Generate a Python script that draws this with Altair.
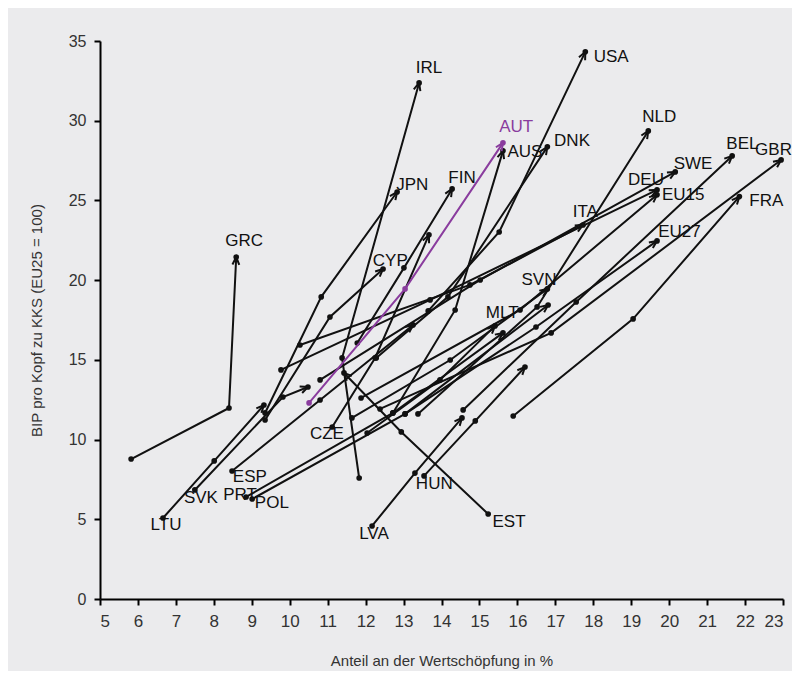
import math
import altair as alt
import pandas as pd

countries = ["IRL", "USA", "AUT", "AUS", "DNK", "NLD", "JPN", "FIN", "GRC", "CYP",
             "ITA", "DEU", "EU15", "SWE", "BEL", "GBR", "FRA", "EU27", "SVN", "MLT",
             "LTU", "SVK", "ESP", "PRT", "POL", "CZE", "EST", "LVA", "HUN"]

x_start = [11.83, 13.65, 10.51, 12.72, 12.28, 13.38, 9.35, 11.78, 5.82, 9.35,
           10.27, 9.77, 11.88, 10.80, 14.57, 12.38, 15.89, 13.04, 11.64, 12.04,
           6.66, 7.50, 8.48, 8.85, 9.01, 11.12, 15.23, 12.17, 13.54]
y_start = [7.59, 18.07, 12.30, 11.67, 15.12, 11.61, 11.67, 16.06, 8.78, 11.23,
           15.93, 14.37, 12.61, 13.74, 11.86, 11.92, 11.48, 11.61, 11.36, 10.41,
           5.08, 6.84, 8.03, 6.40, 6.27, 10.79, 5.33, 4.58, 7.72]
x_mid = [11.38, 15.52, 13.04, 14.36, 14.17, 16.52, 10.83, 13.01, 8.40, 11.06,
         14.75, 13.70, 16.07, 15.02, 17.55, 16.89, 19.05, 16.49, 14.23, 13.96,
         8.01, 9.82, 10.80, 12.72, 13.04, 12.25, 12.94, 13.30, 14.89]
y_mid = [15.12, 23.02, 19.45, 18.13, 18.95, 18.32, 18.95, 20.77, 11.98, 17.69,
         19.70, 18.76, 18.13, 20.01, 18.63, 16.69, 17.57, 17.06, 14.99, 13.74,
         8.66, 12.67, 12.48, 11.67, 11.61, 15.12, 10.48, 7.90, 11.17]
x_end = [13.41, 17.79, 15.62, 15.62, 16.79, 19.45, 12.83, 14.28, 8.59, 12.46,
         17.73, 19.68, 19.68, 20.16, 21.66, 22.95, 21.85, 19.68, 16.79, 15.41,
         9.32, 10.48, 13.25, 15.62, 16.81, 13.67, 11.43, 14.54, 16.20]
y_end = [32.37, 34.32, 28.61, 28.11, 28.36, 29.36, 25.53, 25.72, 21.45, 20.70,
         23.46, 25.66, 25.35, 26.79, 27.79, 27.54, 25.24, 22.46, 19.45, 17.13,
         12.17, 13.30, 17.19, 16.69, 18.44, 22.84, 14.18, 11.36, 14.55]

label_x = [13.67, 18.47, 15.97, 16.20, 17.44, 19.74, 13.23, 14.54, 8.80, 12.65,
           17.79, 19.39, 20.37, 20.63, 21.93, 22.75, 22.56, 20.27, 16.57, 15.60,
           6.74, 7.66, 8.95, 8.69, 9.53, 10.98, 15.78, 12.22, 13.81]
label_y = [33.31, 34.00, 29.61, 28.04, 28.73, 30.24, 25.97, 26.41, 22.46, 21.20,
           24.28, 26.29, 25.35, 27.29, 28.54, 28.17, 24.97, 23.02, 20.01, 17.94,
           4.64, 6.34, 7.65, 6.52, 6.02, 10.35, 4.83, 4.08, 7.21]

highlight = "AUT"
x_ticks = list(range(5, 24))
y_ticks = list(range(0, 36, 5))

W, H = 683, 558
X_DOM, Y_DOM = [5, 23], [0, 35]
sx = W / (X_DOM[1] - X_DOM[0])
sy = H / (Y_DOM[1] - Y_DOM[0])

rows, ends, labels = [], [], []
for i, c in enumerate(countries):
    grp = "hl" if c == highlight else "base"
    for step, (xx, yy) in enumerate([(x_start[i], y_start[i]), (x_mid[i], y_mid[i]), (x_end[i], y_end[i])]):
        rows.append({"country": c, "step": step, "x": xx, "y": yy, "grp": grp})
    ang = math.degrees(math.atan2((x_end[i] - x_mid[i]) * sx, (y_end[i] - y_mid[i]) * sy)) % 360
    ends.append({"country": c, "x": x_end[i], "y": y_end[i], "ang": ang, "grp": grp})
    labels.append({"country": c, "x": label_x[i], "y": label_y[i], "grp": grp})

pts = pd.DataFrame(rows)
ends_df = pd.DataFrame(ends)
lab_df = pd.DataFrame(labels)

color = alt.Color("grp:N", scale=alt.Scale(domain=["base", "hl"], range=["#111111", "#8a3c9e"]), legend=None)
xs = alt.Scale(domain=X_DOM, nice=False, zero=False)
ys = alt.Scale(domain=Y_DOM, nice=False, zero=False)

xaxis = alt.Axis(values=x_ticks, title="Anteil an der Wertschöpfung in %", titlePadding=24, labelOverlap=False)
yaxis = alt.Axis(values=y_ticks, title="BIP pro Kopf zu KKS (EU25 = 100)", titlePadding=24, labelOverlap=False)

lines = alt.Chart(pts).mark_line(strokeWidth=2).encode(
    x=alt.X("x:Q", scale=xs, axis=xaxis), y=alt.Y("y:Q", scale=ys, axis=yaxis),
    detail="country:N", order="step:Q", color=color
)
dots = alt.Chart(pts).mark_circle(size=32, opacity=1).encode(
    x=alt.X("x:Q", scale=xs, axis=xaxis), y=alt.Y("y:Q", scale=ys, axis=yaxis), color=color
)
arrows = alt.Chart(ends_df).mark_point(
    shape="M -0.45 1 L 0 0 L 0.45 1", size=230, filled=False, strokeWidth=2, opacity=1
).encode(x=alt.X("x:Q", scale=xs, axis=xaxis), y=alt.Y("y:Q", scale=ys, axis=yaxis),
         angle=alt.Angle("ang:Q", scale=None), color=color)
texts = alt.Chart(lab_df).mark_text(fontSize=17, font="Liberation Sans", align="center", baseline="middle").encode(
    x=alt.X("x:Q", scale=xs, axis=xaxis), y=alt.Y("y:Q", scale=ys, axis=yaxis), text="country:N",
    color=alt.Color("grp:N", scale=alt.Scale(domain=["base", "hl"], range=["#3a3a3a", "#8a3c9e"]), legend=None)
)

chart = alt.layer(
    lines.transform_filter(alt.datum.grp == "base"),
    dots.transform_filter(alt.datum.grp == "base"),
    arrows.transform_filter(alt.datum.grp == "base"),
    lines.transform_filter(alt.datum.grp == "hl"),
    dots.transform_filter(alt.datum.grp == "hl"),
    arrows.transform_filter(alt.datum.grp == "hl"),
    texts,
).properties(
    width=W, height=H,
    autosize=alt.AutoSizeParams(type="none"),
    padding={"left": 92, "top": 33, "right": 9, "bottom": 72},
    background="#ebebed",
).configure_view(stroke=None).configure_axis(
    grid=False, domainColor="#000000", domainWidth=2, tickColor="#000000", tickWidth=2, tickSize=6,
    labelColor="#333333", titleColor="#333333", titleFontWeight="normal",
    labelFont="Liberation Sans", titleFont="Liberation Sans", labelOverlap=False,
).configure_axisX(labelFontSize=17, labelPadding=8, titleFontSize=15, labelOverlap=False
).configure_axisY(labelFontSize=16, labelPadding=8, titleFontSize=15)

chart.save("out.html", embed_options={"renderer": "svg", "actions": False})
